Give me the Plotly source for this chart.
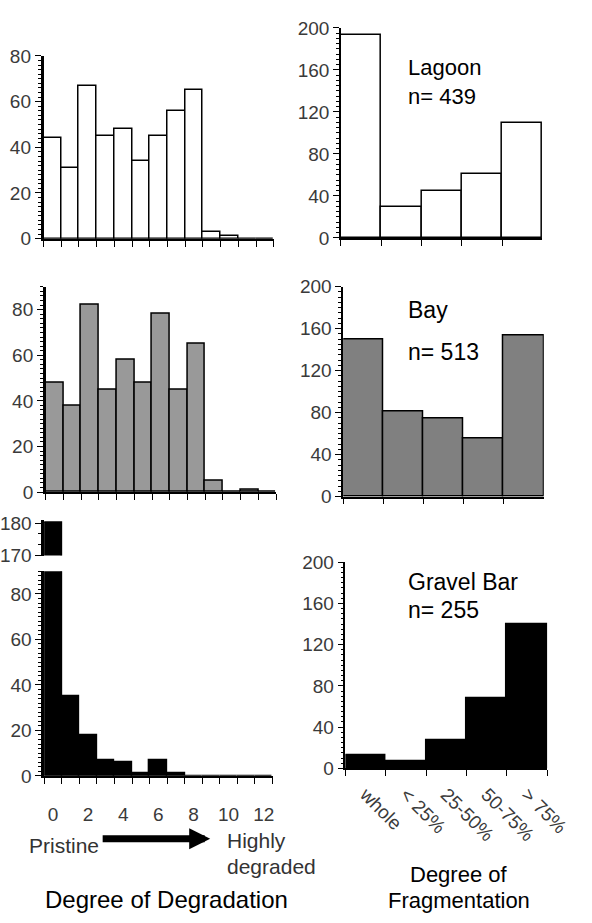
import plotly.graph_objects as go

# ---------------- data ----------------
deg_levels = list(range(13))
lagoon_deg = [44, 31, 67, 45, 48, 34, 45, 56, 65, 3, 1, 0, 0]
bay_deg = [48, 38, 82, 45, 58, 48, 78, 45, 65, 5, 0, 1, 0]
gravel_deg = [180, 35, 18, 7, 6, 1, 7, 1, 0, 0, 0, 0, 0]

frag_cats = ["whole", "< 25%", "25-50%", "50-75%", "> 75%"]
lagoon_frag = [193, 30, 45, 61, 110]
bay_frag = [150, 81, 74, 55, 153]
gravel_frag = [13, 7, 27, 68, 140]

deg_ticks = [0, 2, 4, 6, 8, 10, 12]
deg_edges = [v - 0.5 for v in range(14)]

W, H = 592, 923
FONT = "Liberation Sans, Arial, sans-serif"
TICKCOL = "#3a3a3a"


def xd(a, b):
    return [a / W, b / W]


def yd(top, bottom):
    return [1 - bottom / H, 1 - top / H]


fig = go.Figure()

bar_line = dict(color="black", width=1.5)

fig.add_trace(go.Bar(x=deg_levels, y=lagoon_deg, xaxis="x", yaxis="y",
                     marker=dict(color="white", line=bar_line), width=1))
fig.add_trace(go.Bar(x=deg_levels, y=bay_deg, xaxis="x2", yaxis="y2",
                     marker=dict(color="#999999", line=bar_line), width=1))
fig.add_trace(go.Bar(x=deg_levels, y=gravel_deg, xaxis="x3", yaxis="y3",
                     marker=dict(color="black", line=bar_line), width=1))
fig.add_trace(go.Bar(x=deg_levels, y=gravel_deg, xaxis="x4", yaxis="y4",
                     marker=dict(color="black", line=bar_line), width=1))
fig.add_trace(go.Bar(x=frag_cats, y=lagoon_frag, xaxis="x5", yaxis="y5",
                     marker=dict(color="white", line=bar_line), width=1))
fig.add_trace(go.Bar(x=frag_cats, y=bay_frag, xaxis="x6", yaxis="y6",
                     marker=dict(color="#808080", line=bar_line), width=1))
fig.add_trace(go.Bar(x=frag_cats, y=gravel_frag, xaxis="x7", yaxis="y7",
                     marker=dict(color="black", line=bar_line), width=1))

tickfont = dict(family=FONT, size=19, color=TICKCOL)


def yax(dom, rng, dtick, minor_dtick, anchor, lw=2.5):
    return dict(domain=dom, range=rng, dtick=dtick, tick0=0, showgrid=False, zeroline=False,
                showline=True, linecolor="black", linewidth=lw, ticks="outside", ticklen=6,
                tickwidth=1.2, tickcolor="black", tickfont=tickfont, anchor=anchor,
                minor=dict(ticks="outside", ticklen=3, tickwidth=1, tickcolor="black",
                           dtick=minor_dtick, showgrid=False),
                fixedrange=True)


def xax_deg(dom, anchor, labels=False):
    d = dict(domain=dom, range=[-0.5, 12.5], showgrid=False, zeroline=False, showline=True,
             linecolor="black", linewidth=2, anchor=anchor, fixedrange=True)
    if labels:
        d.update(tickmode="array", tickvals=deg_ticks, ticktext=[str(v) for v in deg_ticks],
                 ticks="", tickfont=tickfont, ticklabelstandoff=20,
                 minor=dict(tickmode="array", tickvals=deg_edges, ticks="outside", ticklen=6,
                            tickwidth=1.2, tickcolor="black", showgrid=False))
    else:
        d.update(tickmode="array", tickvals=deg_edges, ticks="outside", ticklen=6,
                 tickwidth=1.2, tickcolor="black", showticklabels=False)
    return d


def xax_frag(dom, anchor, labels=False):
    d = dict(domain=dom, type="category", range=[-0.5, 4.5], showgrid=False, zeroline=False,
             showline=True, linecolor="black", linewidth=1.5, anchor=anchor,
             ticks="outside", tickson="boundaries", ticklen=6, tickwidth=1.2,
             tickcolor="black", fixedrange=True)
    if labels:
        d.update(tickangle=45, tickfont=tickfont, showticklabels=True, ticklabelstandoff=6)
    else:
        d.update(showticklabels=False)
    return d


layout = dict(
    width=W, height=H, margin=dict(l=0, r=0, t=0, b=0),
    paper_bgcolor="white", plot_bgcolor="rgba(0,0,0,0)",
    showlegend=False, bargap=0, font=dict(family=FONT),
    xaxis=xax_deg(xd(44.3, 284.3), "y"),
    yaxis=yax(yd(47, 234), [0, 80], 20, 2, "x"),
    xaxis2=xax_deg(xd(46.7, 286.7), "y2"),
    yaxis2=yax(yd(283.3, 493.3), [0, 90], 20, 2, "x2"),
    xaxis3=xax_deg(xd(45, 283), "y3", labels=True),
    yaxis3=yax(yd(574.3, 783.7), [0, 90], 20, 2, "x3"),
    xaxis4=dict(domain=xd(45, 283), range=[-0.5, 12.5], visible=False, anchor="y4", fixedrange=True),
    yaxis4=yax(yd(521.7, 558.3), [170, 181], 10, 10 / 3, "x4"),
    xaxis5=xax_frag(xd(354.3, 564.3), "y5"),
    yaxis5=yax(yd(18.3, 233.3), [0, 200], 40, 5, "x5", lw=1.5),
    xaxis6=xax_frag(xd(356.7, 565.7), "y6"),
    yaxis6=yax(yd(283, 498), [0, 200], 40, 5, "x6", lw=1.5),
    xaxis7=xax_frag(xd(359, 569.3), "y7", labels=True),
    yaxis7=yax(yd(565, 776), [0, 200], 40, 5, "x7", lw=1.5),
)
fig.update_layout(**layout)
fig.update_layout(yaxis4=dict(tick0=170))


def txt(s, x, y, size, anchor="left", color="black"):
    fig.add_annotation(text=s, x=x / W, y=1 - y / H, xref="paper", yref="paper",
                       xanchor=anchor, yanchor="middle", showarrow=False, align="left",
                       font=dict(family=FONT, size=size, color=color))


txt("Lagoon<br>n= 439", 422, 74, 22)
txt("Bay", 422, 307, 23)
txt("n= 513", 422, 350, 23)
txt("Gravel Bar", 422, 585, 23)
txt("n= 255", 422, 614, 23)

txt("Pristine", 27, 855, 21, color="#333333")
txt("Highly", 233, 850, 21, color="#333333")
txt("degraded", 233, 876, 21, color="#333333")
txt("Degree of Degradation", 172, 910, 24, anchor="center")
txt("Degree of", 477, 885, 22, anchor="center")
txt("Fragmentation", 477, 911, 22, anchor="center")

fig.add_annotation(x=218 / W, y=1 - 848 / H, ax=-109, ay=0,
                   xref="paper", yref="paper",
                   showarrow=True, arrowhead=2, arrowsize=0.6, arrowwidth=7,
                   arrowcolor="black", text="")

fig.write_html("out.html")
